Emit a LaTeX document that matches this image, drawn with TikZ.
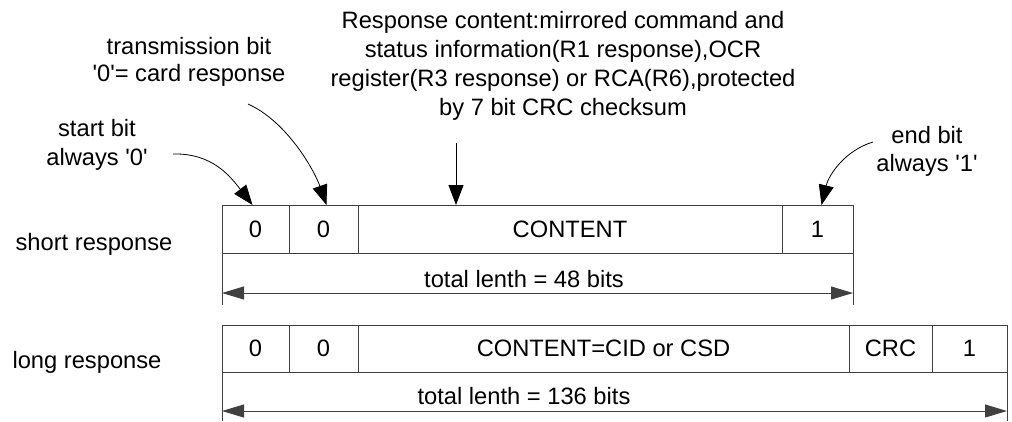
\documentclass[tikz,border=0pt]{standalone}
\usepackage{fontspec}
\setmainfont{Liberation Sans}
\usetikzlibrary{arrows.meta, positioning, calc}
\definecolor{linegray}{RGB}{64, 64, 64}

\begin{document}
\begin{tikzpicture}[
    x=1pt, y=-1pt,
    every node/.style={inner sep=0pt,
               font=\fontsize{23.7}{28.5}\selectfont},
    cell/.style={draw=linegray, line width=1pt,
               outer sep=0pt, minimum height=48pt},
    note/.style={align=center},
    callout/.style={-{Triangle[length=20pt, width=15pt]},
               line width=0.8pt},
    dimline/.style={{Triangle[length=22pt, width=13pt]}-{Triangle[length=22pt, width=13pt]},
               draw=linegray, line width=1pt},
    extline/.style={draw=linegray, line width=1pt},
]
\useasboundingbox (0,0) rectangle (1012,421);

% -- Row labels --
\node (shortlbl) at (94,243.9) {short response};
\node (longlbl) at (87,362) {long response};

% -- Short response frame --
\node[cell, minimum width=67pt] (s0)
    at (255.5,229) {0};
\node[cell, minimum width=69pt, right=0pt of s0] (s1) {0};
\node[cell, minimum width=424pt, right=0pt of s1] (sc) {CONTENT};
\node[cell, minimum width=71pt, right=0pt of sc] (s2) {1};

% -- Long response frame --
\node[cell, minimum width=67pt, minimum height=47pt] (l0)
    at (255.5,348.5) {0};
\node[cell, minimum width=69pt, minimum height=47pt,
      right=0pt of l0] (l1) {0};
\node[cell, minimum width=491pt, minimum height=47pt,
      right=0pt of l1] (lc) {CONTENT=CID or CSD};
\node[cell, minimum width=83pt, minimum height=47pt,
      right=0pt of lc] (lcrc) {CRC};
\node[cell, minimum width=75pt, minimum height=47pt,
      right=0pt of lcrc] (l2) {1};

% -- Length of short frame --
\coordinate (sextl) at (222,305);
\coordinate (sextr) at (853,305);
\coordinate (sdiml) at (222,293);
\coordinate (sdimr) at (853,293);
\draw[extline] (s0.south west) -- (sextl);
\draw[extline] (s2.south east) -- (sextr);
\draw[dimline] (sdiml) -- (sdimr);
\node (stot) at (524,279.5) {total lenth = 48 bits};

% -- Length of long frame --
\coordinate (lextl) at (222,421);
\coordinate (lextr) at (1007,421);
\coordinate (ldiml) at (222,411);
\coordinate (ldimr) at (1007,411);
\draw[extline] (l0.south west) -- (lextl);
\draw[extline] (l2.south east) -- (lextr);
\draw[dimline] (ldiml) -- (ldimr);
\node (ltot) at (524,396.5) {total lenth = 136 bits};

% -- Callout texts --
\node[note, font=\fontsize{23.7}{29}\selectfont] (startlbl)
    at (97,144.4) {start bit\\always \textquotesingle0\textquotesingle};
\node[note, font=\fontsize{23.7}{27.4}\selectfont] (translbl)
    at (189,61.8) {transmission bit\\\textquotesingle0\textquotesingle= card response};
\node[note, font=\fontsize{23.7}{29}\selectfont] (resplbl)
    at (563,65.4) {Response content:mirrored command and\\
    status information(R1 response),OCR\\
    register(R3 response) or RCA(R6),protected\\
    by 7 bit CRC checksum};
\node[note, font=\fontsize{23.7}{28.4}\selectfont] (endlbl)
    at (927,151.4) {end bit\\always \textquotesingle1\textquotesingle};

% -- Callout arrows --
\coordinate (startfrom) at (173,154);
\coordinate (transfrom) at (248,104);
\coordinate (respfrom) at (456,143);
\coordinate (endfrom) at (873,142);
\draw[callout] (startfrom)
    .. controls (212,153) and (230,176) .. ([xshift=-3pt]s0.north);
\draw[callout] (transfrom)
    .. controls (288,122) and (315,172) .. ([xshift=3pt]s1.north);
\draw[callout] (respfrom) -- (respfrom |- sc.north);
\draw[callout] (endfrom)
    .. controls (846,150) and (829,174) .. ([xshift=4pt]s2.north);

\end{tikzpicture}
\end{document}
